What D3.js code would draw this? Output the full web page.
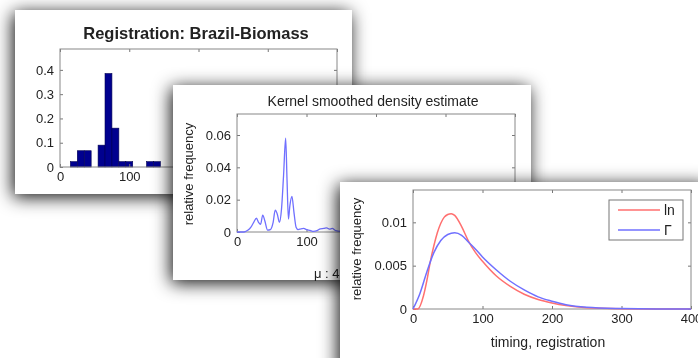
<!DOCTYPE html>
<html>
<head>
<meta charset="utf-8">
<script src="https://cdn.jsdelivr.net/npm/d3@7"></script>
<style>
  body { margin: 0; background: #fff; }
  svg { display: block; font-family: "Liberation Sans", Arial, sans-serif; }
  .tick text { font-size: 13px; fill: #222; }
  .tick line { stroke: #777; }
</style>
</head>
<body>
<svg id="chart" width="698" height="358"></svg>
<script>
// histogram panel: bin centres and relative frequency
const histBins = [20, 30, 40, 60, 70, 80, 90, 100, 130, 140];
const histFreq = [0.022, 0.067, 0.067, 0.09, 0.385, 0.16, 0.022, 0.022, 0.022, 0.022];

// kernel smoothed density
const densX = [0, 8, 12, 16, 20, 24, 28, 31, 34, 37, 40, 44, 48, 52, 55, 58, 61, 64, 67, 70, 72, 74, 76, 79, 82, 85, 88, 92, 96, 100, 105, 110, 115, 120, 125, 129, 133, 137, 142, 150, 160, 180, 200, 250, 300, 350, 400];
const densY = [0, 0, 0.0003, 0.0012, 0.003, 0.006, 0.0085, 0.006, 0.0048, 0.0105, 0.007, 0.0012, 0.0015, 0.006, 0.0135, 0.011, 0.006, 0.014, 0.035, 0.058, 0.032, 0.008, 0.016, 0.022, 0.012, 0.003, 0.0015, 0.002, 0.0022, 0.0015, 0.001, 0.0004, 0.0008, 0.002, 0.0022, 0.0025, 0.0018, 0.0022, 0.0008, 0.0004, 0.0003, 0.0002, 0.0001, 0, 0, 0, 0];

// fitted lognormal and gamma curves
const lnX = [0, 7, 15, 20, 25, 30, 35, 40, 45, 50, 55, 60, 70, 80, 90, 100, 120, 140, 160, 180, 200, 220, 250, 300, 350, 400];
const lnY = [0, 0, 0.0015, 0.0033, 0.0055, 0.0073, 0.0088, 0.0099, 0.0106, 0.0109, 0.011, 0.0108, 0.0095, 0.0078, 0.0065, 0.0055, 0.0038, 0.0026, 0.0017, 0.0011, 0.0007, 0.0004, 0.00015, 0.00003, 0, 0];
const gamX = [0, 10, 20, 30, 40, 50, 60, 70, 80, 90, 100, 120, 140, 160, 180, 200, 220, 250, 300, 350, 400];
const gamY = [0, 0.0018, 0.0043, 0.0065, 0.0079, 0.0086, 0.0088, 0.0085, 0.0077, 0.0069, 0.006, 0.0045, 0.0032, 0.0022, 0.0014, 0.0009, 0.0005, 0.0002, 0.00005, 0, 0];

const xTicks = [0, 100, 200, 300, 400];

const svg = d3.select('#chart');
const defs = svg.append('defs');
const shadow = defs.append('filter').attr('id', 'shadow')
  .attr('x', '-25%').attr('y', '-25%').attr('width', '150%').attr('height', '150%');
shadow.append('feDropShadow')
  .attr('dx', -2).attr('dy', 3).attr('stdDeviation', 9)
  .attr('flood-color', '#000').attr('flood-opacity', 0.95);
const soft = defs.append('filter').attr('id', 'soft');
soft.append('feGaussianBlur').attr('stdDeviation', 0.45);

const root = svg.append('g').attr('filter', 'url(#soft)');

// one MATLAB-like axes box with inward ticks
function axesBox(g, x, y, yTicks, yFmt) {
  const [x0, x1] = x.range();
  const [y1, y0] = y.range();
  g.append('g').attr('transform', `translate(0,${y1})`)
    .call(d3.axisBottom(x).tickValues(xTicks).tickSize(-3).tickPadding(5).tickFormat(d3.format('d')))
    .call(a => a.select('.domain').remove());
  g.append('g').attr('transform', `translate(0,${y0})`)
    .call(d3.axisTop(x).tickValues(xTicks).tickSize(-3).tickFormat(''))
    .call(a => a.select('.domain').remove());
  g.append('g').attr('transform', `translate(${x0},0)`)
    .call(d3.axisLeft(y).tickValues(yTicks).tickSize(-3).tickPadding(6).tickFormat(yFmt))
    .call(a => a.select('.domain').remove());
  g.append('g').attr('transform', `translate(${x1},0)`)
    .call(d3.axisRight(y).tickValues(yTicks).tickSize(-3).tickFormat(''))
    .call(a => a.select('.domain').remove());
  g.append('rect')
    .attr('x', x0).attr('y', y0).attr('width', x1 - x0).attr('height', y1 - y0)
    .attr('fill', 'none').attr('stroke', '#888').attr('stroke-width', 1);
}

// ---- panel 1: histogram
const p1 = root.append('g');
p1.append('rect').attr('x', 15).attr('y', 10).attr('width', 337).attr('height', 184)
  .attr('fill', '#fff').attr('filter', 'url(#shadow)');
const x1s = d3.scaleLinear().domain([0, 400]).range([60, 337]);
const y1s = d3.scaleLinear().domain([0, 0.486]).range([167, 49]);
p1.selectAll('.bar').data(histBins).join('rect')
  .attr('class', 'bar')
  .attr('x', d => x1s(d - 5))
  .attr('width', d => x1s(d + 5) - x1s(d - 5))
  .attr('y', (d, i) => y1s(histFreq[i]))
  .attr('height', (d, i) => y1s(0) - y1s(histFreq[i]))
  .attr('fill', '#00008f').attr('stroke', '#000050').attr('stroke-width', 0.6);
axesBox(p1, x1s, y1s, [0, 0.1, 0.2, 0.3, 0.4], d => d === 0 ? '0' : d3.format('.1f')(d));
p1.append('text').attr('x', 196).attr('y', 39).attr('text-anchor', 'middle')
  .attr('font-size', 16.5).attr('font-weight', 'bold').attr('fill', '#222')
  .text('Registration: Brazil-Biomass');

// ---- panel 2: kernel density
const p2 = root.append('g');
p2.append('rect').attr('x', 173).attr('y', 85).attr('width', 358).attr('height', 195)
  .attr('fill', '#fff').attr('filter', 'url(#shadow)');
const x2s = d3.scaleLinear().domain([0, 400]).range([237, 515]);
const y2s = d3.scaleLinear().domain([0, 0.073]).range([232, 114]);
axesBox(p2, x2s, y2s, [0, 0.02, 0.04, 0.06], d => d === 0 ? '0' : d3.format('.2f')(d));
p2.append('path')
  .attr('d', d3.line().x(d => x2s(d)).y((d, i) => y2s(densY[i])).curve(d3.curveMonotoneX)(densX))
  .attr('fill', 'none').attr('stroke', '#6f6fff').attr('stroke-width', 1.3);
p2.append('text').attr('x', 373).attr('y', 106).attr('text-anchor', 'middle')
  .attr('font-size', 14).attr('fill', '#222').text('Kernel smoothed density estimate');
p2.append('text').attr('transform', 'translate(193,174) rotate(-90)').attr('text-anchor', 'middle')
  .attr('font-size', 13).attr('fill', '#222').text('relative frequency');
p2.append('text').attr('x', 314).attr('y', 278)
  .attr('font-size', 13).attr('fill', '#222').text('μ : 46.2');

// ---- panel 3: fitted distributions
const p3 = root.append('g');
p3.append('rect').attr('x', 340).attr('y', 182).attr('width', 370).attr('height', 190)
  .attr('fill', '#fff').attr('filter', 'url(#shadow)');
const x3s = d3.scaleLinear().domain([0, 400]).range([413, 691]);
const y3s = d3.scaleLinear().domain([0, 0.01373]).range([309, 190]);
axesBox(p3, x3s, y3s, [0, 0.005, 0.01], d => d === 0 ? '0' : String(d));
const fit = (xs, ys) => d3.line().x(d => x3s(d)).y((d, i) => y3s(ys[i])).curve(d3.curveMonotoneX)(xs);
p3.append('path').attr('d', fit(lnX, lnY))
  .attr('fill', 'none').attr('stroke', '#ff6f6f').attr('stroke-width', 1.5);
p3.append('path').attr('d', fit(gamX, gamY))
  .attr('fill', 'none').attr('stroke', '#7070ff').attr('stroke-width', 1.5);
p3.append('text').attr('transform', 'translate(361,249) rotate(-90)').attr('text-anchor', 'middle')
  .attr('font-size', 13).attr('fill', '#222').text('relative frequency');
p3.append('text').attr('x', 548).attr('y', 347).attr('text-anchor', 'middle')
  .attr('font-size', 14).attr('fill', '#222').text('timing, registration');

// legend
const legend = p3.append('g');
legend.append('rect').attr('x', 609).attr('y', 200).attr('width', 74).attr('height', 40)
  .attr('fill', '#fff').attr('stroke', '#777');
const legendItems = [['ln', '#ff6f6f'], ['Γ', '#7070ff']];
legendItems.forEach(([name, color], i) => {
  const yy = 210 + i * 20;
  legend.append('line').attr('x1', 618).attr('x2', 660).attr('y1', yy).attr('y2', yy)
    .attr('stroke', color).attr('stroke-width', 1.5);
  legend.append('text').attr('x', 664).attr('y', yy + 5)
    .attr('font-size', 14).attr('fill', '#222').text(name);
});
</script>
</body>
</html>
